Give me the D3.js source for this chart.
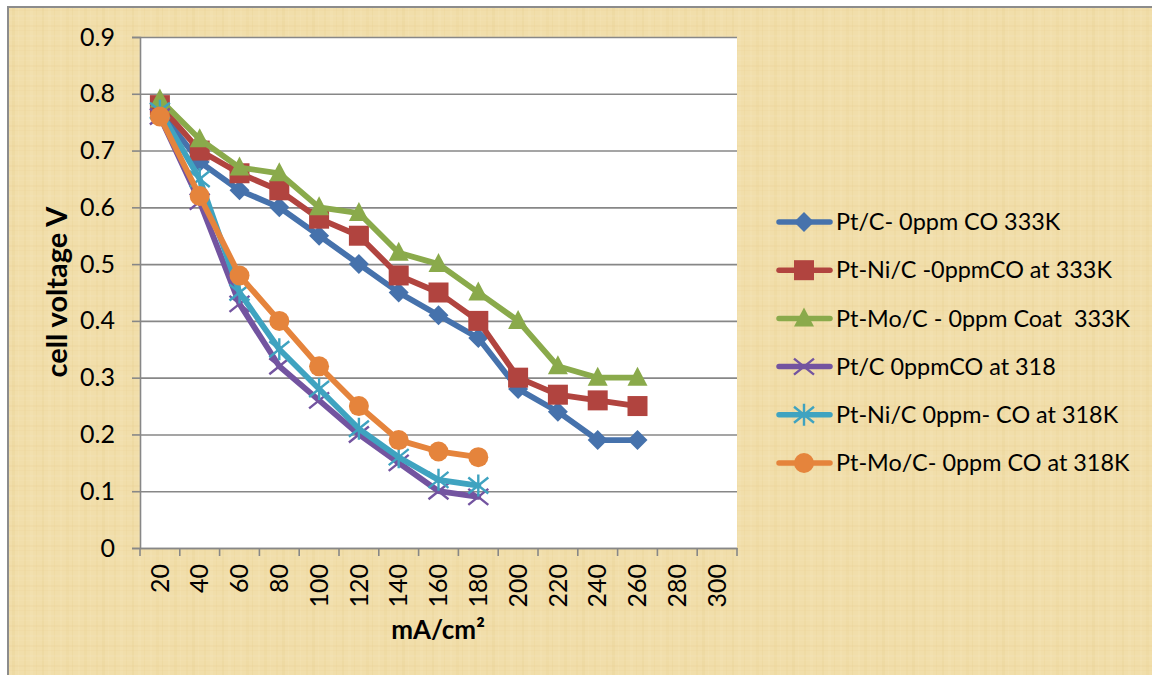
<!DOCTYPE html>
<html>
<head>
<meta charset="utf-8">
<script src="https://cdn.jsdelivr.net/npm/d3@7/dist/d3.min.js"></script>
<style>
  body { margin: 0; background: #fff; }
  svg { display: block; font-family: Lato, "Open Sans", sans-serif; }
</style>
</head>
<body>
<div id="chart"></div>
<script>
var width = 1152;
var height = 675;

// current density categories (mA/cm2)
var currents = [20, 40, 60, 80, 100, 120, 140, 160, 180, 200, 220, 240, 260, 280, 300];

// cell voltage series (V)
var ptC333   = [0.77, 0.68, 0.63, 0.60, 0.55, 0.50, 0.45, 0.41, 0.37, 0.28, 0.24, 0.19, 0.19];
var ptNiC333 = [0.78, 0.70, 0.66, 0.63, 0.58, 0.55, 0.48, 0.45, 0.40, 0.30, 0.27, 0.26, 0.25];
var ptMoC333 = [0.79, 0.72, 0.67, 0.66, 0.60, 0.59, 0.52, 0.50, 0.45, 0.40, 0.32, 0.30, 0.30];
var ptC318   = [0.76, 0.61, 0.43, 0.32, 0.26, 0.20, 0.15, 0.10, 0.09];
var ptNiC318 = [0.77, 0.65, 0.45, 0.35, 0.28, 0.21, 0.16, 0.12, 0.11];
var ptMoC318 = [0.76, 0.62, 0.48, 0.40, 0.32, 0.25, 0.19, 0.17, 0.16];

var seriesNames = [
    "Pt/C- 0ppm CO 333K",
    "Pt-Ni/C -0ppmCO at 333K",
    "Pt-Mo/C - 0ppm Coat  333K",
    "Pt/C 0ppmCO at 318",
    "Pt-Ni/C 0ppm- CO at 318K",
    "Pt-Mo/C- 0ppm CO at 318K"
];
var seriesValues = [ptC333, ptNiC333, ptMoC333, ptC318, ptNiC318, ptMoC318];
var seriesColors = ["#4672AC", "#B1443F", "#8AAA4B", "#7354A0", "#3FA3C0", "#E5843C"];
var seriesMarkers = ["diamond", "square", "triangle", "x", "star", "circle"];

var yTicks = [0, 0.1, 0.2, 0.3, 0.4, 0.5, 0.6, 0.7, 0.8, 0.9];

var plotLeft = 140, plotRight = 737, plotTop = 37, plotBottom = 548;

var svg = d3.select("#chart")
            .append("svg")
            .attr("width", width)
            .attr("height", height);

// parchment-like background
var defs = svg.append("defs");
var pat = defs.append("pattern")
              .attr("id", "paper")
              .attr("patternUnits", "userSpaceOnUse")
              .attr("width", 300)
              .attr("height", 240);
pat.append("rect").attr("width", 300).attr("height", 240).attr("fill", "#F1DEAA");
d3.range(0, 300, 6).forEach(function(px, i) {
    var k = (i * 7) % 5;
    pat.append("rect")
       .attr("x", px).attr("y", 0)
       .attr("width", 1 + (i % 3)).attr("height", 240)
       .attr("fill", k < 2 ? "#FAF0D4" : "#E6CD8C")
       .attr("opacity", 0.08 + 0.04 * k);
});
d3.range(0, 240, 5).forEach(function(py, i) {
    var k = (i * 3) % 4;
    pat.append("rect")
       .attr("x", 0).attr("y", py)
       .attr("width", 300).attr("height", 1 + (i % 2))
       .attr("fill", k < 2 ? "#FAF1D8" : "#E5CB88")
       .attr("opacity", 0.07 + 0.03 * k);
});

svg.append("rect")
   .attr("x", 8).attr("y", 7)
   .attr("width", width + 10).attr("height", height + 10)
   .attr("fill", "url(#paper)")
   .attr("stroke", "#8C8C8C")
   .attr("stroke-width", 2);

// plot area
svg.append("rect")
   .attr("x", plotLeft).attr("y", plotTop)
   .attr("width", plotRight - plotLeft).attr("height", plotBottom - plotTop)
   .attr("fill", "#fff");

var x = d3.scaleBand()
          .domain(currents)
          .range([plotLeft, plotRight]);
var bw = x.bandwidth();
var cx = function(c) { return x(c) + bw / 2; };

var y = d3.scaleLinear()
          .domain([0, 0.9])
          .range([plotBottom, plotTop]);

// gridlines
var grid = svg.append("g")
              .attr("transform", "translate(" + plotLeft + ",0)")
              .call(d3.axisLeft(y).tickValues(yTicks).tickSize(-(plotRight - plotLeft)).tickFormat(""));
grid.select(".domain").remove();
grid.selectAll("line").attr("stroke", "#878787").attr("stroke-width", 1.6);

// y axis
var yAxis = svg.append("g")
               .attr("transform", "translate(" + plotLeft + ",0)")
               .call(d3.axisLeft(y).tickValues(yTicks).tickSize(8).tickPadding(17)
                        .tickFormat(function(d) { return d === 0 ? "0" : d3.format(".1f")(d); }));
yAxis.select(".domain").attr("stroke", "#878787").attr("stroke-width", 1.6);
yAxis.selectAll("line").attr("stroke", "#878787").attr("stroke-width", 1.6);
yAxis.selectAll("text").attr("font-size", 25).attr("fill", "#000").attr("font-family", "Lato");

// x axis
var xAxis = svg.append("g")
               .attr("transform", "translate(0," + plotBottom + ")")
               .call(d3.axisBottom(x).tickSize(0).tickPadding(0));
xAxis.select(".domain").attr("stroke", "#878787").attr("stroke-width", 1.6);
xAxis.selectAll("text")
     .attr("font-size", 25)
     .attr("fill", "#000")
     .attr("font-family", "Lato")
     .attr("text-anchor", "end")
     .attr("transform", "rotate(-90)")
     .attr("x", -16)
     .attr("y", 0)
     .attr("dy", "0.35em");
var boundaries = currents.map(function(c) { return x(c); }).concat([plotRight]);
xAxis.selectAll(".bound")
     .data(boundaries)
     .enter().append("line")
     .attr("class", "bound")
     .attr("x1", function(d) { return d; })
     .attr("x2", function(d) { return d; })
     .attr("y1", 0).attr("y2", 8)
     .attr("stroke", "#878787").attr("stroke-width", 1.6);

// axis titles
svg.append("text")
   .attr("transform", "translate(67,292) rotate(-90)")
   .attr("text-anchor", "middle")
   .attr("font-size", 29)
   .attr("font-weight", "bold")
   .text("cell voltage V");

svg.append("text")
   .attr("x", 438).attr("y", 639)
   .attr("text-anchor", "middle")
   .attr("font-size", 26)
   .attr("font-weight", "bold")
   .text("mA/cm²");

// markers
function drawMarker(g, type, color) {
    if (type === "diamond") {
        g.append("path").attr("d", "M0,-10L10,0L0,10L-10,0Z").attr("fill", color);
    } else if (type === "square") {
        g.append("rect").attr("x", -10).attr("y", -10).attr("width", 20).attr("height", 20).attr("fill", color);
    } else if (type === "triangle") {
        g.append("path").attr("d", "M0,-11L10,8L-10,8Z").attr("fill", color);
    } else if (type === "circle") {
        g.append("circle").attr("r", 10).attr("fill", color);
    } else if (type === "x") {
        g.append("path").attr("d", "M-10,-8L10,8M-10,8L10,-8")
         .attr("stroke", color).attr("stroke-width", 2.4).attr("fill", "none");
    } else if (type === "star") {
        g.append("path").attr("d", "M-10,-8L10,8M-10,8L10,-8M0,-11L0,11")
         .attr("stroke", color).attr("stroke-width", 2.4).attr("fill", "none");
    }
}

var lineGenerator = d3.line()
                      .x(function(d) { return cx(d.c); })
                      .y(function(d) { return y(d.v); });

seriesValues.forEach(function(vals, s) {
    var pts = vals.map(function(v, i) { return {c: currents[i], v: v}; });
    var g = svg.append("g");
    g.append("path")
     .attr("d", lineGenerator(pts))
     .attr("fill", "none")
     .attr("stroke", seriesColors[s])
     .attr("stroke-width", 5.8)
     .attr("stroke-linejoin", "round")
     .attr("stroke-linecap", "round");
    pts.forEach(function(p) {
        var m = g.append("g").attr("transform", "translate(" + cx(p.c) + "," + y(p.v) + ")");
        drawMarker(m, seriesMarkers[s], seriesColors[s]);
    });
});

// legend
var legend = svg.append("g");
seriesNames.forEach(function(name, s) {
    var ly = 222 + s * 48.2;
    var row = legend.append("g").attr("transform", "translate(0," + ly + ")");
    row.append("line")
       .attr("x1", 779).attr("x2", 830)
       .attr("stroke", seriesColors[s])
       .attr("stroke-width", 5.5)
       .attr("stroke-linecap", "round");
    var m = row.append("g").attr("transform", "translate(804,0)");
    drawMarker(m, seriesMarkers[s], seriesColors[s]);
    row.append("text")
       .attr("x", 836).attr("dy", "0.35em")
       .attr("font-size", 23.4)
       .attr("fill", "#000")
       .style("white-space", "pre")
       .text(name);
});
</script>
</body>
</html>
